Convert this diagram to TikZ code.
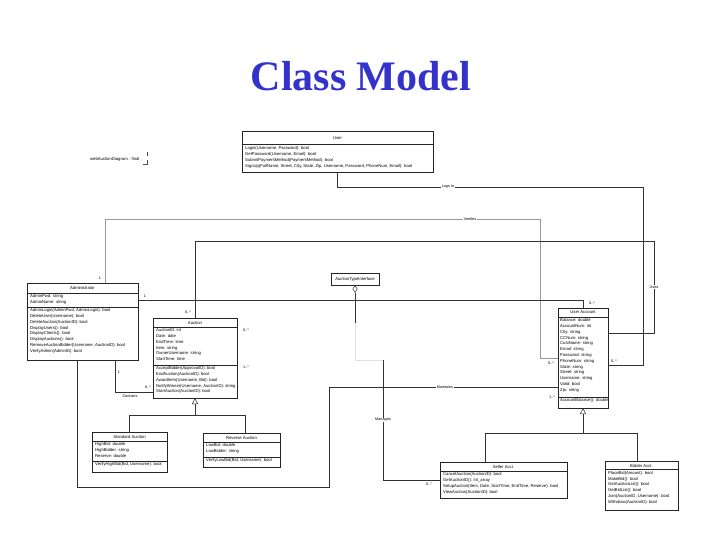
\documentclass[tikz,border=0pt]{standalone}
\usepackage{fontspec}
\setmainfont{Liberation Sans}
\newfontfamily\titlefont{Liberation Serif}
\usetikzlibrary{arrows.meta}
\definecolor{titleblue}{HTML}{3333CC}
\definecolor{ln}{HTML}{333333}
\begin{document}
\begin{tikzpicture}[x=1pt,y=-1pt,
  cls/.style={draw=black!85, line width=0.5pt, inner sep=0pt, outer sep=0pt, anchor=north west},
  ctitle/.style={font=\fontsize{4.2}{5}\selectfont, inner sep=0pt, anchor=center},
  ctext/.style={font=\fontsize{4.2}{5.8}\selectfont, align=left, inner sep=0pt, anchor=north west},
  sepline/.style={draw=black!85, line width=0.4pt},
  conn/.style={draw=ln, line width=0.5pt},
  lbl/.style={font=\fontsize{3.8}{4}\selectfont, inner sep=0.6pt},
  onlbl/.style={lbl, fill=white},
  inh/.style={-{Triangle[open, length=6pt, width=6pt]}},
]
\useasboundingbox (0,0) rectangle (720,540);

% title
\node[font=\titlefont\bfseries\fontsize{42}{46}\selectfont, text=titleblue] (title) at (361,76) {Class Model};

% frame label
\node[ctext, anchor=west] (frame) at (90,159) {webAuctionDiagram : final};
\draw[black!70, line width=0.4pt] (147,152) -- (147,156);
\draw[black!70, line width=0.4pt] (143,164) -- (147,164) -- (147,160);

% User
\node[cls, minimum width=191pt, minimum height=41pt] (user) at (242,131) {};
\node[ctitle] (userT) at (337.5,138) {User};
\draw[sepline] (242,144) -- (433,144);
\node[ctext] (userM) at (245,146.5) {Login(Username, Password): bool\\GetPassword(Username, Email): bool\\SubmitPaymentMethod(PaymentMethod): bool\\SignUp(FullName, Street, City, State, Zip, Username, Password, PhoneNum, Email): bool};

% Administrator
\node[cls, minimum width=111pt, minimum height=77pt] (admin) at (27,283) {};
\node[ctitle] (adminT) at (82.5,288) {Administrator};
\draw[sepline] (27,293) -- (138,293);
\node[ctext] (adminA) at (30,294.5) {AdminPwd: string\\AdminName: string};
\draw[sepline] (27,307) -- (138,307);
\node[ctext] (adminM) at (30,308.5) {AdminLogin(AdminPwd, AdminLogin): bool\\DeleteUser(Username): bool\\DeleteAuction(AuctionID): bool\\DisplayUsers(): bool\\DisplayClients(): bool\\DisplayAuctions(): bool\\RemoveAuctionBidder(Username, AuctionID): bool\\VerifyAdmin(AdminID): bool};

% Auction
\node[cls, minimum width=84pt, minimum height=80pt] (auction) at (153,318) {};
\node[ctitle] (auctionT) at (195,322.5) {Auction};
\draw[sepline] (153,327) -- (237,327);
\node[ctext] (auctionA) at (156,328.5) {AuctionID: int\\Date: date\\EndTime: time\\Item: string\\OwnerUsername: string\\StartTime: time};
\draw[sepline] (153,365) -- (237,365);
\node[ctext] (auctionM) at (156,366.5) {AcceptBidder(ApprovalID): bool\\EndAuction(AuctionID): bool\\AwardItem(Username, Bid): bool\\NotifyWinner(Username, AuctionID): string\\StartAuction(AuctionID): bool};

% Interface
\node[cls, minimum width=48pt, minimum height=12pt] (iface) at (331,273) {};
\node[ctitle] (ifaceT) at (355,279) {AuctionTypeInterface};

% User Account
\node[cls, minimum width=50pt, minimum height=100pt] (ua) at (558,308) {};
\node[ctitle] (uaT) at (583,312.5) {User Account};
\draw[sepline] (558,317) -- (608,317);
\node[ctext] (uaA) at (560,318.5) {Balance: double\\AccountNum: int\\City: string\\CCNum: string\\CustName: string\\Email: string\\Password: string\\PhoneNum: string\\State: string\\Street: string\\Username: string\\Valid: bool\\Zip: string};
\draw[sepline] (558,397) -- (608,397);
\node[ctext] (uaM) at (560,398.5) {AccountBalance(): double};

% Standard Auction
\node[cls, minimum width=75pt, minimum height=40pt] (std) at (92,432) {};
\node[ctitle] (stdT) at (129.5,436.5) {Standard Auction};
\draw[sepline] (92,441) -- (167,441);
\node[ctext] (stdA) at (95,442.5) {HighBid: double\\HighBidder: string\\Reserve: double};
\draw[sepline] (92,461) -- (167,461);
\node[ctext] (stdM) at (95,462.5) {VerifyHighBid(Bid, Username): bool};

% Reverse Auction
\node[cls, minimum width=77pt, minimum height=34pt] (rev) at (203,433) {};
\node[ctitle] (revT) at (241.5,437.5) {Reverse Auction};
\draw[sepline] (203,442) -- (280,442);
\node[ctext] (revA) at (206,443.5) {LowBid: double\\LowBidder: string};
\draw[sepline] (203,457) -- (280,457);
\node[ctext] (revM) at (206,458.5) {VerifyLowBid(Bid, Username): bool};

% Seller Acct
\node[cls, minimum width=127pt, minimum height=36pt] (seller) at (440,462) {};
\node[ctitle] (sellerT) at (503.5,466.5) {Seller Acct.};
\draw[sepline] (440,471) -- (567,471);
\node[ctext] (sellerM) at (443,472.5) {CancelAuction(AuctionID): bool\\GetAuctionID(): int\_array\\SetupAuction(Item, Date, StartTime, EndTime, Reserve): bool\\ViewAuction(AuctionID): bool};

% Bidder Acct
\node[cls, minimum width=73pt, minimum height=49pt] (bidder) at (605,461) {};
\node[ctitle] (bidderT) at (641.5,465.5) {Bidder Acct.};
\draw[sepline] (605,469.5) -- (678,469.5);
\node[ctext] (bidderM) at (608,471) {PlaceBid(Amount): bool\\MakeBid(): bool\\GetAuctionList(): bool\\GetBidList(): bool\\Join(AuctionID, Username): bool\\Withdraw(AuctionID): bool};

% junctions
\coordinate (j1) at (195,415);
\coordinate (j2) at (583,433);
\coordinate (k1) at (355,323);
\coordinate (k2) at (383,360);

% connectors
% Logs In
\draw[conn] (user.south) |- (643,187) |- (ua.east |- 0,365);
\node[onlbl] (lLogs) at (448,187) {Logs In};
\node[lbl] (mLogs) at (614,361) {0..*};

% Verifies
\draw[conn, draw=black!40] (admin.north -| 105,0) |- (540,219) |- (ua.west |- 0,358);
\node[onlbl] (lVer) at (470,219) {Verifies};
\node[lbl] (mVer1) at (100,278) {1};
\node[lbl] (mVer2) at (551,363) {0..*};

% Uses
\draw[conn] (auction.north) |- (654,241) |- (ua.east |- 0,333);
\node[onlbl] (lUses) at (654,287) {Uses};
\node[lbl] (mUses1) at (188,312) {0..*};

% Admin -- User Account
\draw[conn] (admin.east |- 0,300) -| (ua.north);
\node[lbl] (mAU1) at (145,296) {1};
\node[lbl] (mAU2) at (592,303) {0..*};

% Interface aggregation / Manages
\draw[conn, {Diamond[open,length=8pt,width=5pt]}-] (iface.south) -- (k1);
\draw[conn, draw=black!12] (k1) |- (k2);
\draw[conn] (k2) |- (seller.west |- 0,480);
\node[onlbl] (lMan) at (383,420) {Manages};
\node[lbl] (mMan) at (429,484) {0..*};

% free multiplicities at Auction
\node[lbl] (mA1) at (246,330) {0..*};
\node[lbl] (mA2) at (246,367) {1..*};

% Maintains
\draw[conn] (admin.south -| 77,0) |- (329,487) |- (ua.west |- 0,387);
\node[onlbl] (lMain) at (445,387) {Maintains};
\node[lbl] (mMain1) at (552,397) {1..*};

% Contains
\draw[conn] (admin.south -| 115,0) |- (auction.west |- 0,392);
\node[lbl] (mCon1) at (119,372) {1};
\node[lbl] (lCon) at (130,396) {Contains};
\node[lbl] (mCon2) at (148,387) {0..*};

% Auction inheritance
\draw[conn] (std.north) |- (j1);
\draw[conn] (rev.north -| 245,0) |- (j1);
\draw[conn, inh] (j1) -- (auction.south);

% Account inheritance
\draw[conn] (seller.north -| 485,0) |- (j2);
\draw[conn] (bidder.north -| 637,0) |- (j2);
\draw[conn, inh] (j2) -- (ua.south);
\end{tikzpicture}
\end{document}
